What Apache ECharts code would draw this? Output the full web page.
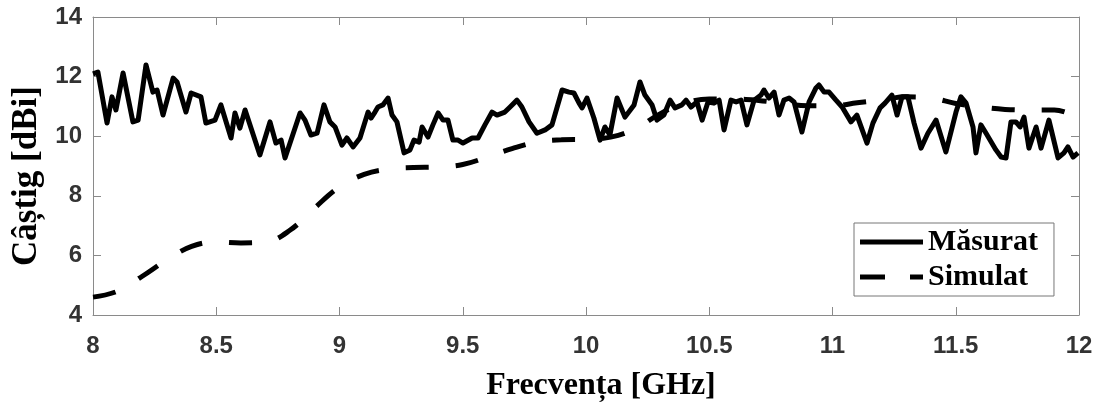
<!DOCTYPE html>
<html>
<head>
<meta charset="utf-8">
<script src="https://cdn.jsdelivr.net/npm/echarts@6/dist/echarts.min.js"></script>
<style>
html,body{margin:0;padding:0;background:#fff;}
#chart{width:1105px;height:407px;}
</style>
</head>
<body>
<div id="chart"></div>
<script>
// Frequency [GHz] and gain [dBi] values
const measuredFreq = [8.000,8.020,8.057,8.077,8.093,8.122,8.162,8.183,8.215,8.243,8.260,8.284,8.325,8.341,8.377,8.398,8.438,8.458,8.495,8.519,8.560,8.576,8.596,8.617,8.677,8.718,8.742,8.763,8.779,8.840,8.860,8.884,8.909,8.937,8.961,8.982,9.010,9.030,9.055,9.083,9.116,9.128,9.144,9.156,9.176,9.197,9.213,9.233,9.262,9.286,9.302,9.323,9.335,9.359,9.379,9.400,9.420,9.440,9.460,9.481,9.501,9.538,9.562,9.590,9.619,9.639,9.671,9.692,9.720,9.740,9.769,9.801,9.834,9.862,9.903,9.931,9.951,9.972,9.984,10.004,10.032,10.057,10.077,10.097,10.126,10.158,10.195,10.219,10.239,10.268,10.288,10.316,10.341,10.361,10.389,10.406,10.426,10.450,10.471,10.495,10.519,10.540,10.560,10.588,10.609,10.629,10.653,10.682,10.710,10.722,10.742,10.763,10.783,10.803,10.824,10.844,10.876,10.905,10.933,10.945,10.966,10.986,11.014,11.039,11.075,11.099,11.140,11.164,11.193,11.213,11.241,11.262,11.282,11.306,11.331,11.359,11.387,11.420,11.460,11.501,11.521,11.542,11.570,11.582,11.602,11.623,11.663,11.684,11.704,11.724,11.744,11.761,11.777,11.797,11.826,11.846,11.878,11.915,11.939,11.955,11.976,11.996];
const measuredGain = [12.09,12.15,10.44,11.32,10.88,12.12,10.48,10.54,12.39,11.48,11.55,10.71,11.95,11.82,10.81,11.45,11.32,10.44,10.54,11.05,9.94,10.78,10.27,10.88,9.37,10.48,9.77,9.87,9.27,10.78,10.54,10.04,10.10,11.05,10.48,10.31,9.70,9.94,9.64,9.94,10.81,10.61,10.81,10.98,11.05,11.28,10.71,10.48,9.44,9.54,9.87,9.80,10.31,9.97,10.38,10.78,10.54,10.54,9.87,9.87,9.77,9.94,9.94,10.38,10.81,10.71,10.81,10.98,11.21,10.98,10.48,10.10,10.21,10.38,11.55,11.48,11.45,11.11,10.95,11.28,10.61,9.87,10.31,10.04,11.28,10.64,11.05,11.82,11.38,11.05,10.54,10.71,11.21,10.95,11.05,11.21,10.98,11.15,10.54,11.15,11.11,11.21,10.21,11.21,11.15,11.21,10.38,11.21,11.38,11.55,11.28,11.48,10.71,11.21,11.28,11.15,10.14,11.15,11.62,11.72,11.48,11.48,11.21,10.98,10.48,10.71,9.77,10.44,10.95,11.11,11.38,10.71,11.32,11.32,10.44,9.60,10.10,10.54,9.47,10.81,11.32,11.11,10.31,9.44,10.38,10.10,9.54,9.30,9.27,10.48,10.48,10.31,10.64,9.60,10.31,9.60,10.54,9.27,9.44,9.64,9.30,9.44];
const simulatedFreq = [8.0,8.1,8.2,8.3,8.4,8.5,8.6,8.7,8.8,8.9,9.0,9.1,9.2,9.3,9.4,9.5,9.6,9.7,9.8,9.9,10.0,10.1,10.2,10.3,10.4,10.5,10.6,10.7,10.8,10.9,11.0,11.1,11.2,11.3,11.4,11.5,11.6,11.7,11.8,11.9,12.0];
const simulatedGain = [4.6,4.8,5.3,5.85,6.3,6.45,6.42,6.45,6.85,7.6,8.3,8.72,8.9,8.95,8.97,9.05,9.3,9.58,9.8,9.88,9.9,9.97,10.25,10.75,11.1,11.25,11.25,11.2,11.1,11.02,11.02,11.12,11.22,11.32,11.28,11.1,10.98,10.9,10.88,10.88,10.6];
const seriesNames = ['Măsurat', 'Simulat'];
const xTicks = {min: 8, max: 12, interval: 0.5};
const yTicks = {min: 4, max: 14, interval: 2};

const chart = echarts.init(document.getElementById('chart'));
const axisLineStyle = {color: '#8a8a8a', width: 1};
const tickLabel = {color: '#333', fontSize: 24, fontWeight: 'bold', fontFamily: 'Liberation Sans, Arial, sans-serif'};
const serif = 'Liberation Serif, Times New Roman, serif';

chart.setOption({
  animation: false,
  backgroundColor: '#fff',
  grid: {left: 93, right: 26, top: 17, bottom: 92, containLabel: false},
  legend: {
    orient: 'vertical', left: 854, top: 223,
    padding: [4, 16, 4, 6],
    itemWidth: 63, itemHeight: 5, itemGap: 5, itemTextGap: 20,
    symbolKeepAspect: false,
    borderColor: '#777', borderWidth: 1, backgroundColor: '#fff',
    itemStyle: {color: '#000', borderWidth: 0},
    textStyle: {color: '#000', fontSize: 30, lineHeight: 30, fontWeight: 'bold', fontFamily: serif},
    data: [
      {name: seriesNames[0], icon: 'path://M0,0L63,0L63,5L0,5Z'},
      {name: seriesNames[1], icon: 'path://M0,0L25,0L25,5L0,5Z M50,0L63,0L63,5L50,5Z'}
    ]
  },
  xAxis: [{
    type: 'value', min: xTicks.min, max: xTicks.max, interval: xTicks.interval,
    name: 'Frecvența [GHz]', nameLocation: 'middle', nameGap: 55,
    nameTextStyle: {color: '#000', fontSize: 32, fontWeight: 'bold', fontFamily: serif, padding: [0, 0, 0, 30]},
    axisLine: {show: true, onZero: false, lineStyle: axisLineStyle},
    axisTick: {show: true, inside: true, length: 8, lineStyle: axisLineStyle},
    axisLabel: Object.assign({margin: 19}, tickLabel),
    splitLine: {show: false}
  }, {
    type: 'value', position: 'top', min: xTicks.min, max: xTicks.max, interval: xTicks.interval,
    axisLine: {show: true, onZero: false, lineStyle: axisLineStyle},
    axisTick: {show: true, inside: true, length: 8, lineStyle: axisLineStyle},
    axisLabel: {show: false}, splitLine: {show: false}
  }],
  yAxis: [{
    type: 'value', min: yTicks.min, max: yTicks.max, interval: yTicks.interval,
    name: 'Câștig [dBi]', nameLocation: 'middle', nameGap: 48,
    nameTextStyle: {color: '#000', fontSize: 35, fontWeight: 'bold', fontFamily: serif, padding: [0, 20, 0, 0]},
    axisLine: {show: true, onZero: false, lineStyle: axisLineStyle},
    axisTick: {show: true, inside: true, length: 8, lineStyle: axisLineStyle},
    axisLabel: Object.assign({margin: 11}, tickLabel),
    splitLine: {show: false}
  }, {
    type: 'value', position: 'right', min: yTicks.min, max: yTicks.max, interval: yTicks.interval,
    axisLine: {show: true, onZero: false, lineStyle: axisLineStyle},
    axisTick: {show: true, inside: true, length: 8, lineStyle: axisLineStyle},
    axisLabel: {show: false}, splitLine: {show: false}
  }],
  series: [{
    name: seriesNames[0], type: 'line', showSymbol: false, symbol: 'none',
    data: measuredFreq.map((f, i) => [f, measuredGain[i]]),
    lineStyle: {color: '#000', width: 5, join: 'round'},
    itemStyle: {color: '#000'}
  }, {
    name: seriesNames[1], type: 'line', showSymbol: false, symbol: 'none', smooth: 0.4,
    data: simulatedFreq.map((f, i) => [f, simulatedGain[i]]),
    lineStyle: {color: '#000', width: 5, type: [23, 27], cap: 'butt'},
    itemStyle: {color: '#000'}
  }]
});
</script>
</body>
</html>
